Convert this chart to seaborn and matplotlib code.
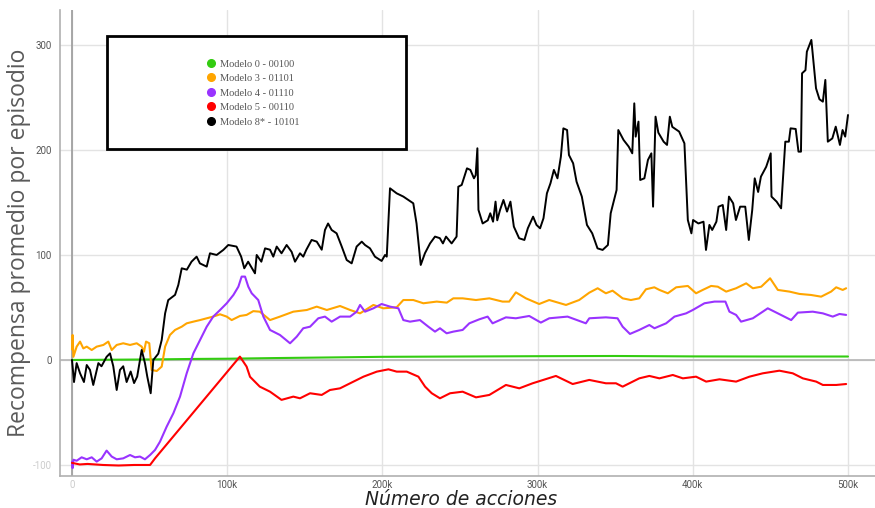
import matplotlib
matplotlib.use("Agg")
import matplotlib.pyplot as plt
from matplotlib.lines import Line2D
from matplotlib.patches import Rectangle
import seaborn as sns
import pandas as pd

# ---- data: number of actions (thousands) vs. mean reward per episode ----
m0_x = [0, 20, 50, 80, 100, 130, 160, 200, 250, 300, 350, 400, 450, 500]
m0_y = [0, 0.2, 0.5, 1.0, 1.2, 1.8, 2.3, 3.0, 3.3, 3.6, 3.8, 3.4, 3.3, 3.3]

m3_x = [0, 0.4, 0.9, 3, 5.2, 7.3, 9.5, 12.7, 15.9, 20.2, 23.4, 25.6, 28.8, 33, 37.4, 41.7,
        44.9, 46.4, 47.7, 49.8, 51.3, 54.6, 57.8, 60, 63.1, 66.4, 70.7, 73.9, 78.2, 82.5,
        86.8, 91, 95.4, 99.7, 102.9, 108.2, 112.5, 116.8, 121, 127.6, 134, 142.6, 151.3,
        157.7, 164.2, 172.7, 179.2, 185.6, 194.2, 200.6, 209.2, 213.5, 219.9, 226.4, 235,
        241.5, 245.7, 251.7, 260.3, 268.9, 277.4, 281.7, 286, 292.5, 301, 307.5, 318.3,
        326.8, 333.3, 338.7, 344, 348.3, 354.8, 360.1, 365.5, 369.8, 375.2, 378.5, 383.9,
        389.3, 396.8, 402.1, 406.4, 411.8, 416.1, 421.5, 427.9, 434.4, 438.7, 444.1, 449.8,
        454.8, 462.3, 468.7, 476.2, 482.7, 489.1, 492.4, 496.6, 498.8]
m3_y = [10, 23.8, 3, 12.7, 17.5, 11, 12.7, 9.5, 12.7, 14.3, 17.5, 9.5, 14.3, 15.9, 14.3, 15.9,
        12.7, 7.9, 17.5, 15.9, -9.5, -10.5, -6.3, 12.7, 23.8, 28.6, 31.7, 34.9, 36.5, 38,
        39.7, 41.3, 43.5, 41.3, 38, 41.9, 42.9, 46.5, 46, 38, 41.3, 46, 47.6,
        50.8, 47.6, 51.4, 47.6, 44.4, 52.4, 49.2, 50.2, 57.1, 57.1, 54, 55.6,
        54.6, 58.7, 58.7, 57.1, 58.7, 55.6, 55.6, 64.4, 58.7, 53.3, 57.1, 52.4,
        57.1, 64.1, 68.3, 63.5, 66, 58.7, 57.1, 58.7, 67.3, 69.2, 66.7, 63.5,
        69.2, 70.5, 63.5, 66.7, 70.5, 69.8, 65.1, 68.3, 73, 68.3, 69.8, 77.8,
        66.7, 65.1, 62.9, 61.9, 60.3, 65.1, 69.2, 66.7, 68.3]

m4_x = [0, 0.4, 0.9, 3, 6.2, 9.5, 12.7, 15.9, 19.1, 22.3, 25.6, 28.8, 33, 37.4, 40.6, 43.8,
        47, 50.3, 53.5, 56.7, 61, 65.3, 69.6, 73.9, 78.2, 82.5, 86.8, 91, 95.4, 99.7, 104,
        107.2, 109.3, 111.5, 113.6, 115.8, 120, 123.3, 127.6, 134, 140.5, 144.8, 149,
        153.4, 158.7, 163, 167.3, 172.7, 179.2, 183.4, 185.6, 188.8, 194.2, 199.5, 204.9,
        210.3, 213.5, 217.8, 224.2, 229.6, 233.9, 237.1, 241.4, 245.7, 251.7, 256, 262.4,
        267.8, 271, 279.6, 286, 294.6, 302.1, 307.5, 319.3, 331.1, 333.3, 344, 351.5,
        354.8, 359.5, 365.5, 372, 375.3, 382.8, 388.2, 395.7, 400, 407.5, 414, 421,
        423.6, 427.9, 431.1, 438.7, 445.1, 448.3, 454.8, 463.4, 467.7, 477.3, 483.8,
        490.2, 494.5, 498.8]
m4_y = [-97, -103, -95, -96, -92.7, -94.6, -92.7, -96.8, -93.7, -86.3, -92, -94.6, -93.7,
        -90.5, -92.7, -92, -94.6, -90.5, -85.7, -77.8, -63.5, -50.8, -34.9, -12.7, 6.3,
        19, 31.7, 41.3, 47.6, 54, 61.9, 69.8, 79.4, 79.4, 69.8, 63.5, 57.1, 41.3, 28.6,
        23.8, 15.9, 22.2, 30.2, 31.7, 39.7, 41.3, 36.5, 41.3, 41.3, 46, 52.4, 46, 49.2,
        53.3, 50.8, 49.2, 38, 36.5, 38, 31.7, 27, 30.2, 25.4, 27, 28.6, 34.9, 38.7, 41.3,
        34.9, 40.6, 39.7, 41.9, 35.6, 39.7, 41.3, 34.9, 39.7, 40.6, 39.7, 31.7, 24.8,
        28.6, 33.3, 30.2, 34.9, 41.3, 44.4, 47.6, 54, 55.6, 55.6, 46, 42.9, 36.5, 39.7,
        46, 49.2, 44.4, 38, 45.1, 46, 44.4, 41.3, 43.8, 42.9]

m5_x = [0, 5, 10, 20, 30, 40, 50.3, 53.5, 108.2, 112.5, 114.7, 121, 127.6, 135, 142.6,
        146.9, 153.4, 160.9, 166.2, 172.7, 179.2, 187.8, 196.4, 203.9, 209.2, 215.7,
        223.2, 227.5, 231.8, 237.1, 243.6, 251.7, 260.3, 268.9, 279.6, 288.2, 296.8,
        311.8, 322.6, 333.3, 344, 350.5, 354.8, 365.5, 372, 378.5, 387.1, 393.6, 402.1,
        408.6, 417.2, 427.9, 436.5, 445.1, 455.8, 464.4, 470.9, 479.5, 483.8, 492.4, 498.8]
m5_y = [-98, -99.5, -99, -100, -100.5, -100, -100, -93.7, 3.2, -6.3, -16, -25.4, -30.2,
        -38, -34.9, -36.5, -31.7, -33.3, -28.6, -27, -22.2, -15.9, -11.1, -8.9, -11.1,
        -11.1, -15.9, -25.4, -31.7, -36.5, -31.7, -30.2, -35.6, -33.3, -23.8, -27, -22.2,
        -15.2, -22.9, -19, -22.2, -22.2, -25.4, -17.5, -15.2, -17.5, -14.3, -17.5, -15.9,
        -20.6, -18.4, -20.6, -15.9, -12.7, -10.2, -12.7, -17.5, -20.6, -23.8, -23.8, -22.9]

m8_x = [0, 1.3, 3, 5.2, 7.7, 9.5, 11.6, 13.7, 17, 19, 22.3, 24.5, 26.6, 28.8, 30.9, 33,
        35.2, 37.8, 40, 42, 44.9, 47, 48.5, 50.7, 52.4, 55.6, 57.8, 60, 62, 66.4, 68.5,
        70.7, 74, 77, 80.3, 82.4, 86.8, 88.9, 93.2, 97.5, 100.7, 106, 109, 111, 113.5,
        117.9, 119, 122, 124.4, 127.6, 129.7, 131.9, 135, 138.3, 141.5, 143.7, 146.9, 149,
        151, 154.4, 157.7, 160.9, 163, 165, 167.3, 170.5, 173.8, 177, 180.2, 183.4, 186.7,
        188.8, 192, 195.2, 199.5, 201.7, 202.8, 204.9, 209.2, 213.5, 216.7, 219.9, 222,
        224.7, 227.4, 230.7, 233.9, 237, 239, 241, 244.6, 247.8, 248.9, 251.1, 254.5,
        256.7, 259, 260.1, 261.2, 261.9, 264.6, 267.9, 269.5, 271.3, 272.9, 274, 275.8,
        278, 280.3, 282.5, 284.7, 288.1, 291.5, 293.7, 297.1, 299.3, 301.6, 303.8, 306,
        308.3, 310.5, 312.8, 315, 316.6, 319, 320.2, 322.9, 325.1, 328.5, 331.8, 335.2,
        338.6, 341.9, 345.3, 347.1, 350.9, 352, 355.4, 358.7, 361, 362.3, 363.2, 365,
        366.1, 368.8, 371.1, 373.3, 374.4, 376, 377.8, 381.2, 383.4, 385.2, 386.8, 391.2,
        394.6, 396.8, 399.1, 400.2, 403.6, 406.9, 408.5, 410.7, 412.5, 415.2, 416.6,
        419.3, 421.5, 423.3, 426, 427.8, 430.5, 433.8, 436.1, 438.3, 439.9, 442.1, 443.9,
        447.3, 450.2, 450.7, 454, 456.9, 459.6, 461.9, 463, 466.3, 468.1, 469.7, 470.4,
        472.6, 473.5, 476.4, 479.4, 481.6, 483.8, 485.4, 487, 489.9, 492.1, 494.8, 496.5,
        498.2, 500]
m8_y = [0, -21, -3, -12.7, -21, -4.8, -9.5, -23.8, -3, -6, 3, 6.3, -6, -28.6, -9.5, -6,
        -21, -11, -22, -15.8, 9.5, -3, -15.8, -31.7, 0, 6, 19, 44.4, 57, 62, 71.4,
        87.3, 86, 93.6, 98.4, 92, 88.9, 101.6, 100, 104.8, 109.5, 108, 98.4, 87.3, 93.6,
        82.5, 100, 93.6, 106.3, 105, 98.4, 108, 101.6, 109.5, 103, 93.6, 101.6, 98.4,
        105, 114.3, 112.7, 105, 123.8, 130, 123.8, 120.6, 108, 95.2, 92, 108, 112.7,
        109.5, 106.3, 98.4, 94.3, 100, 98.4, 163.5, 158.7, 155.6, 152.4, 149.2, 130,
        90.5, 101.6, 111, 117.5, 116, 111, 117.5, 111, 117.5, 165, 166.7, 182.5,
        181, 173, 176, 201.6, 142.9, 130, 133, 139.7, 131.7, 150.8, 133, 142.9,
        152.4, 141.3, 150.8, 127, 115.9, 114.3, 125.4, 136.5, 128.6, 125.4, 135, 158.7,
        168.3, 181, 173, 193.6, 220.6, 219, 195.2, 187.3, 169.8, 155.6, 128.6, 120.6,
        106.3, 104.8, 109.5, 139.7, 161.9, 219, 209.5, 203.2, 196.8, 244.4, 212.7, 227,
        171.4, 173, 190.5, 196.8, 146, 231.7, 216.5, 207.9, 204.8, 231.7, 222, 217.5,
        206.3, 133.3, 120.6, 133.3, 130, 131.7, 104.8, 128.6, 123.8, 131.7, 146,
        147.6, 123.8, 155.6, 149.2, 133.3, 146, 146, 114.3, 142.9, 173, 160, 174.6,
        184, 196.8, 155.6, 150.8, 144.4, 207.9, 207.9, 220.6, 220, 198.4, 198.4, 273,
        276, 293.6, 304.8, 258.7, 248.3, 246, 266.7, 207.9, 211, 222.2, 204.8, 219,
        212.7, 233.3]

labels = ["Modelo 0 - 00100", "Modelo 3 - 01101", "Modelo 4 - 01110",
          "Modelo 5 - 00110", "Modelo 8* - 10101"]
colors = ["#33cc11", "#ffa500", "#9933ff", "#ff0000", "#000000"]

x_ticks = [0, 100, 200, 300, 400, 500]
x_tick_labels = ["0", "100k", "200k", "300k", "400k", "500k"]
y_ticks = [-100, 0, 100, 200, 300]
y_tick_labels = ["-100", "0", "100", "200", "300"]

series = [(m0_x, m0_y), (m3_x, m3_y), (m4_x, m4_y), (m5_x, m5_y), (m8_x, m8_y)]
frames = []
for name, (xs, ys) in zip(labels, series):
    frames.append(pd.DataFrame({"acciones": xs, "recompensa": ys, "modelo": name}))
df = pd.concat(frames, ignore_index=True)

sns.set_style("white")
plt.rcParams["font.family"] = ["Open Sans", "DejaVu Sans"]

W, H = 875, 508
fig = plt.figure(figsize=(W / 100, H / 100), dpi=100)
ax = fig.add_axes([60 / W, (H - 476) / H, (W - 60) / W, (476 - 10) / H])

# grid
for yv in y_ticks:
    ax.axhline(yv, color="#e3e3e3", lw=1.0, zorder=0)
for xv in x_ticks:
    ax.axvline(xv, color="#e3e3e3", lw=1.0, zorder=0)
ax.axhline(0, color="#b5b5b5", lw=1.2, zorder=0.5)
ax.axvline(0, color="#9a9a9a", lw=1.2, zorder=0.5)

sns.lineplot(data=df, x="acciones", y="recompensa", hue="modelo",
             palette=dict(zip(labels, colors)), hue_order=labels,
             estimator=None, sort=False, linewidth=1.5, legend=False, ax=ax)
for line, name in zip(ax.get_lines()[-5:], labels):
    if name.startswith("Modelo 8"):
        line.set_linewidth(1.4)
        line.set_zorder(3)

ax.set_xlim(-7.73, 517.4)
ax.set_ylim(-110.5, 333.3)

for s in ["top", "right"]:
    ax.spines[s].set_visible(False)
for s in ["left", "bottom"]:
    ax.spines[s].set_color("#b0b0b0")
    ax.spines[s].set_linewidth(1.2)

ax.set_xticks(x_ticks)
ax.set_xticklabels(x_tick_labels, fontsize=7, color="#555555", family="Roboto")
ax.set_yticks(y_ticks)
ax.set_yticklabels(y_tick_labels, fontsize=7, color="#555555", family="Roboto")
ax.get_xticklabels()[0].set_color("#cccccc")
ax.get_yticklabels()[0].set_color("#cccccc")
ax.tick_params(axis="both", length=0)
ax.tick_params(axis="x", pad=3)
ax.tick_params(axis="y", pad=6)
ax.set_xlabel("")
ax.set_ylabel("")

# axis titles
fig.text(461 / W, 1 - 505 / H, "Número de acciones", fontsize=13.5, style="italic",
         color="#222222", family="DejaVu Sans", ha="center", va="baseline")
fig.text(19 / W, 1 - 243 / H, "Recompensa promedio por episodio", fontsize=16.5,
         color="#5a5a5a", rotation=90, ha="center", va="center")

# legend box
box = Rectangle((107 / W, 1 - 149 / H), 299 / W, 113 / H, transform=fig.transFigure,
                facecolor="white", edgecolor="black", lw=2, zorder=5)
fig.add_artist(box)
handles = [Line2D([], [], marker="o", ls="", color=c, markersize=5.5) for c in colors]
leg = fig.legend(handles, labels, loc="center", bbox_to_anchor=(253 / W, 1 - 93 / H),
                 frameon=False, prop={"family": "Liberation Serif", "size": 7.5},
                 labelcolor="#555555", handlelength=0.8, handletextpad=0.5,
                 labelspacing=0.5, borderpad=0)
leg.set_zorder(6)

fig.savefig("out.png", dpi=100)
